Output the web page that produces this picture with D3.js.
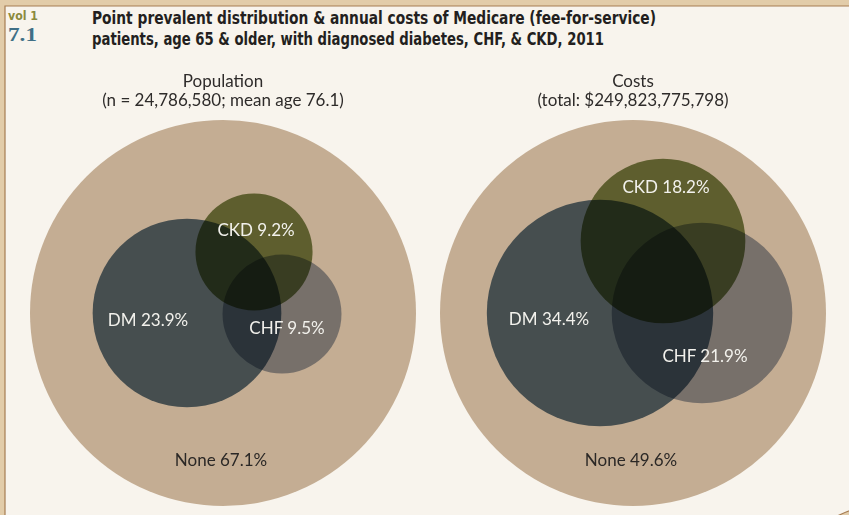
<!DOCTYPE html>
<html>
<head>
<meta charset="utf-8">
<script src="https://cdn.jsdelivr.net/npm/d3@7"></script>
<style>
  body { margin: 0; background: #e2cca9; }
  svg { display: block; }
</style>
</head>
<body>
<div class="canvas"></div>
<script>
// ---- data ----
const groups = ['DM', 'CKD', 'CHF'];
const popValues = [23.9, 9.2, 9.5];      // % of patients
const costValues = [34.4, 18.2, 21.9];   // % of costs
const noneValues = [67.1, 49.6];
const panelTitles = ['Population', 'Costs'];
const panelSubs = ['(n = 24,786,580; mean age 76.1)', '(total: $249,823,775,798)'];

// ---- layout ----
const W = 849, H = 515;
const radius = d3.scaleSqrt().domain([0, 100]).range([0, 193]);
const labelFont = 'Lato, Open Sans, sans-serif';
const fs = 17;

// centres of the two panels, then circle offsets from those centres
const panels = [
  { cx: 223, cy: 313, values: popValues, none: noneValues[0],
    off: { DM: [-36, 0], CKD: [31, -61], CHF: [59, 1] },
    lab: { DM: [-75, 13], CKD: [33, -77], CHF: [64, 21] } },
  { cx: 633, cy: 313, values: costValues, none: noneValues[1],
    off: { DM: [-33, 0], CKD: [30, -72], CHF: [69, 0] },
    lab: { DM: [-84, 12], CKD: [33, -120], CHF: [72, 49] } }
];

// multiply colours so the overlaps darken like the print
const fills = { DM: '#5b7389', CKD: '#7a8b50', CHF: '#9ba5b8' };

const svg = d3.select('.canvas')
  .append('svg')
  .attr('width', W)
  .attr('height', H);

// parchment frame + cream page
svg.append('rect').attr('width', W).attr('height', H).attr('fill', '#e2cca9');
svg.append('path')
  .attr('d', `M5,6 H${W + 5} V${H - 6} Q${W - 4},${H - 3} ${W - 20},${H + 5} H5 Z`)
  .attr('fill', '#f8f4ed')
  .attr('stroke', '#a67c52')
  .attr('stroke-width', 1.2);

// header
svg.append('text')
  .attr('x', 8).attr('y', 20)
  .attr('font-family', 'DejaVu Sans Condensed, Liberation Sans Narrow, DejaVu Sans')
  .attr('font-stretch', 'condensed')
  .attr('font-weight', 'bold')
  .attr('font-size', 12)
  .attr('fill', '#8b8a3c')
  .attr('textLength', 30).attr('lengthAdjust', 'spacingAndGlyphs')
  .text('vol 1');
svg.append('text')
  .attr('x', 8).attr('y', 41)
  .attr('font-family', 'Liberation Serif, DejaVu Serif, serif')
  .attr('font-weight', 'bold')
  .attr('font-size', 18)
  .attr('fill', '#3f6f86')
  .attr('textLength', 29).attr('lengthAdjust', 'spacingAndGlyphs')
  .text('7.1');

const titleLines = [
  { t: 'Point prevalent distribution & annual costs of Medicare (fee-for-service)', y: 24, w: 564 },
  { t: 'patients, age 65 & older, with diagnosed diabetes, CHF, & CKD, 2011', y: 45, w: 512 }
];
svg.selectAll('.title')
  .data(titleLines)
  .join('text')
  .attr('class', 'title')
  .attr('x', 92)
  .attr('y', d => d.y)
  .attr('font-family', 'DejaVu Sans Condensed, Liberation Sans Narrow, DejaVu Sans')
  .attr('font-stretch', 'condensed')
  .attr('font-weight', 'bold')
  .attr('font-size', 18)
  .attr('fill', '#231f20')
  .attr('textLength', d => d.w)
  .attr('lengthAdjust', 'spacingAndGlyphs')
  .text(d => d.t);

// one venn per panel
panels.forEach((p, i) => {
  const g = svg.append('g')
    .attr('transform', `translate(${p.cx}, ${p.cy})`)
    .style('isolation', 'isolate');

  g.append('text')
    .attr('text-anchor', 'middle')
    .attr('y', -226)
    .attr('font-family', labelFont)
    .attr('font-size', fs)
    .attr('fill', '#2e2b2a')
    .text(panelTitles[i]);
  g.append('text')
    .attr('text-anchor', 'middle')
    .attr('y', -207)
    .attr('font-family', labelFont)
    .attr('font-size', fs)
    .attr('fill', '#2e2b2a')
    .text(panelSubs[i]);

  // whole population / total cost = 100%
  g.append('circle')
    .attr('r', radius(100))
    .attr('fill', '#c4ad93');

  const circles = groups.map((k, j) => ({ key: k, value: p.values[j] }));

  g.selectAll('.set')
    .data(circles)
    .join('circle')
    .attr('class', 'set')
    .attr('cx', d => p.off[d.key][0])
    .attr('cy', d => p.off[d.key][1])
    .attr('r', d => radius(d.value))
    .attr('fill', d => fills[d.key])
    .style('mix-blend-mode', 'multiply');

  g.selectAll('.lab')
    .data(circles)
    .join('text')
    .attr('class', 'lab')
    .attr('x', d => p.lab[d.key][0])
    .attr('y', d => p.lab[d.key][1])
    .attr('text-anchor', 'middle')
    .attr('font-family', labelFont)
    .attr('font-size', fs)
    .attr('fill', '#f2f1ec')
    .text(d => `${d.key} ${d.value}%`);

  g.append('text')
    .attr('x', -2)
    .attr('y', 153)
    .attr('text-anchor', 'middle')
    .attr('font-family', labelFont)
    .attr('font-size', fs)
    .attr('fill', '#2b2826')
    .text(`None ${p.none}%`);
});
</script>
</body>
</html>
